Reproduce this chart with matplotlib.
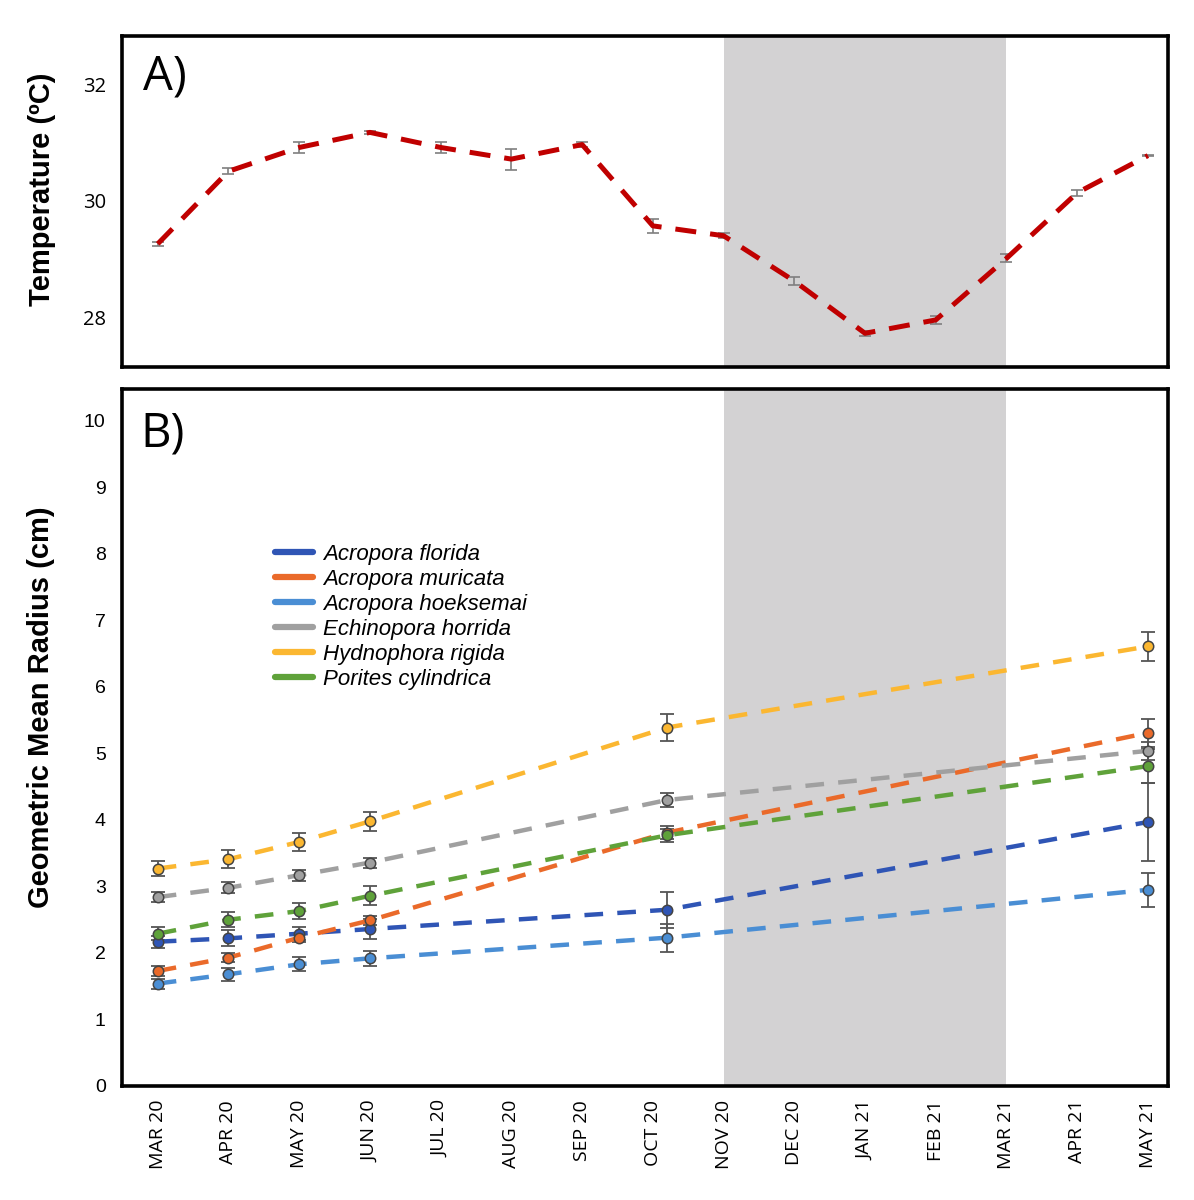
import numpy as np
import matplotlib.pyplot as plt
from matplotlib.lines import Line2D

# Month labels shared by both panels
months = ['MAR 20', 'APR 20', 'MAY 20', 'JUN 20', 'JUL 20', 'AUG 20', 'SEP 20',
          'OCT 20', 'NOV 20', 'DEC 20', 'JAN 21', 'FEB 21', 'MAR 21', 'APR 21', 'MAY 21']

# Panel A: monthly mean temperature
temp = [29.26, 30.51, 30.92, 31.18, 30.92, 30.72, 30.97, 29.57,
        29.40, 28.62, 27.72, 27.95, 29.01, 30.14, 30.78]
temp_err = [0.04, 0.05, 0.10, 0.02, 0.09, 0.18, 0.05, 0.12,
            0.04, 0.07, 0.04, 0.07, 0.07, 0.05, 0.01]

# Panel B: survey times (month index from MAR 20) and coral radius
survey_month = [0, 1, 2, 3, 7.2, 14]
species = ['Acropora florida', 'Acropora muricata', 'Acropora hoeksemai',
           'Echinopora horrida', 'Hydnophora rigida', 'Porites cylindrica']
colors = ['#2f55b5', '#ea6a2a', '#4a8ed4', '#a0a0a0', '#fbb731', '#5fa23a']
radius = {
    'Acropora florida':   [2.17, 2.22, 2.29, 2.36, 2.65, 3.97],
    'Acropora muricata':  [1.73, 1.93, 2.23, 2.49, 3.81, 5.31],
    'Acropora hoeksemai': [1.54, 1.68, 1.83, 1.92, 2.23, 2.95],
    'Echinopora horrida': [2.84, 2.98, 3.17, 3.36, 4.30, 5.04],
    'Hydnophora rigida':  [3.27, 3.41, 3.67, 3.98, 5.39, 6.61],
    'Porites cylindrica': [2.29, 2.50, 2.63, 2.86, 3.77, 4.81],
}
radius_err = {
    'Acropora florida':   [0.09, 0.12, 0.10, 0.155, 0.27, 0.58],
    'Acropora muricata':  [0.07, 0.065, 0.06, 0.065, 0.10, 0.21],
    'Acropora hoeksemai': [0.075, 0.10, 0.105, 0.11, 0.21, 0.26],
    'Echinopora horrida': [0.08, 0.08, 0.085, 0.075, 0.11, 0.14],
    'Hydnophora rigida':  [0.115, 0.135, 0.14, 0.145, 0.20, 0.22],
    'Porites cylindrica': [0.10, 0.11, 0.12, 0.14, 0.10, 0.26],
}

x = np.arange(len(months))
winter_start, winter_end = 8, 12

fig = plt.figure(figsize=(11.94, 12), dpi=100)
ax1 = fig.add_axes([0.1025, 0.6942, 0.8755, 0.2758])
ax2 = fig.add_axes([0.1025, 0.095, 0.8755, 0.5808])

for ax in (ax1, ax2):
    ax.axvspan(winter_start, winter_end, color='#d3d2d3', zorder=0, lw=0)
    ax.set_xlim(-0.5, 14.28)
    for s in ax.spines.values():
        s.set_linewidth(2.6)
    ax.tick_params(length=0)

# ---- Panel A ----
ax1.errorbar(x, temp, yerr=temp_err, fmt='none', ecolor='#7f7f7f',
             elinewidth=1.2, capsize=4, capthick=1.2, zorder=2)
ax1.plot(x, temp, color='#c00000', lw=3.6, dashes=(4.2, 2.8), zorder=3)
ax1.set_ylim(27.14, 32.84)
ax1.set_yticks([28, 30, 32])
ax1.set_yticklabels(['28', '30', '32'], fontsize=14.5, family='Open Sans')
ax1.set_xticks([])
ax1.tick_params(axis='y', pad=12)
ax1.set_ylabel('Temperature (ºC)', fontsize=21, family='Liberation Sans',
               fontweight='bold', labelpad=19, y=0.538)
ax1.text(0.02, 0.95, 'A)', transform=ax1.transAxes, fontsize=34,
         family='Open Sans', va='top', ha='left')

# ---- Panel B ----
handles = []
for sp, c in zip(species, colors):
    ax2.errorbar(survey_month, radius[sp], yerr=radius_err[sp], fmt='none',
                 ecolor='#555555', elinewidth=1.3, capsize=5, capthick=1.3, zorder=3)
    ax2.plot(survey_month, radius[sp], color=c, lw=3.2, dashes=(4.2, 3.2), zorder=4)
    ax2.plot(survey_month, radius[sp], 'o', color=c, ms=7.5, mec='#444444',
             mew=1.1, zorder=5)
    handles.append(Line2D([0], [0], color=c, lw=4.5, solid_capstyle='round'))

ax2.set_ylim(0, 10.48)
ax2.set_yticks(range(0, 11))
ax2.set_yticklabels([str(v) for v in range(0, 11)], fontsize=14,
                    family='Liberation Sans')
ax2.set_xticks(x)
ax2.set_xticklabels(months, rotation=90, fontsize=14, family='Open Sans')
ax2.tick_params(axis='y', pad=12)
ax2.tick_params(axis='x', pad=10)
ax2.set_ylabel('Geometric Mean Radius (cm)', fontsize=21, family='Liberation Sans',
               fontweight='bold', labelpad=21, y=0.544)
ax2.text(0.017, 0.97, 'B)', transform=ax2.transAxes, fontsize=34,
         family='Open Sans', va='top', ha='left')

leg = ax2.legend(handles, species, loc='upper left', bbox_to_anchor=(0.127, 0.806),
                 frameon=False, handlelength=1.7, handletextpad=0.45,
                 labelspacing=0.18, prop={'family': 'Liberation Sans',
                                          'style': 'italic', 'size': 16})

fig.savefig('out.png', dpi=100)
